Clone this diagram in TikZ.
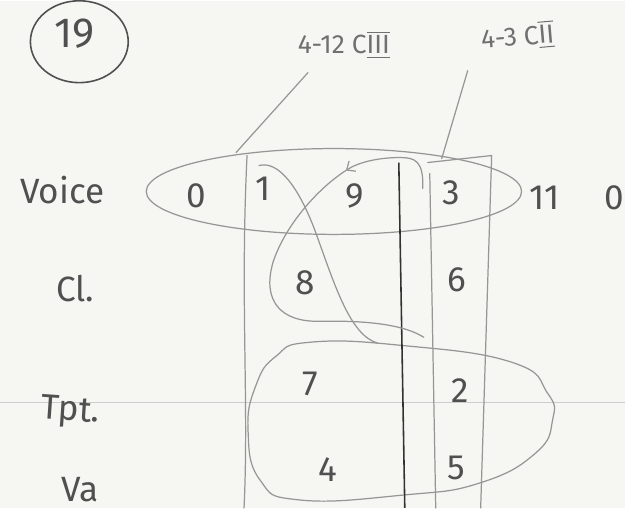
\documentclass[tikz,border=0pt]{standalone}
\usepackage{amsmath}
\usepackage{fontspec}
\setmainfont{Fira Sans}
\usepackage{tikz}
\usetikzlibrary{
  arrows.meta,
  positioning,
  shapes.geometric
}
\usepackage{xcolor}
\definecolor{paper}{RGB}{246,246,242}
\definecolor{pencil}{RGB}{80,80,80}
\definecolor{lead}{RGB}{150,150,150}
\definecolor{heavylead}{RGB}{50,50,50}
\definecolor{ruling}{RGB}{205,205,205}
\newcommand{\barnum}[1]{$\overline{\underline{\text{#1}}}$}

\begin{document}
\begin{tikzpicture}[x=0.02cm, y=-0.02cm,
  pitch/.style={font=\fontsize{20}{22}\selectfont, text=pencil, inner sep=1pt},
  inst/.style={font=\fontsize{20}{22}\selectfont, text=pencil},
  note/.style={font=\fontsize{15}{17}\selectfont, text=lead!75!black},
  pen/.style={draw=lead, line width=0.7pt, line cap=round, line join=round}]

  % Paper and its ruled line
  \fill[paper] (0,0) rectangle (626,508);
  \draw[ruling, line width=0.5pt] (0,402) -- (626,402);

  % Set number
  \node[ellipse, draw=pencil, line width=0.9pt, inner sep=0pt,
    minimum width=1.96cm, minimum height=1.64cm] (ring) at (79,41) {};
  \node[font=\fontsize{24}{26}\selectfont, text=pencil] (setno) at (74,33) {19};

  % Instruments
  \node[inst] (voice) at (62,190) {Voice};
  \node[inst] (cl) at (75,288) {Cl.};
  \node[inst, rotate=-4] (tpt) at (70,412) {Tpt.};
  \node[inst] (va) at (80,490) {Va};

  % Pitch classes
  \foreach \nm/\px/\py/\val in {
    v0/196/195/0, v1/263/188/1, v9/355/196/9, v3/452/192/3,
    v11/545/197/11, v0b/615/197/0,
    c8/305/282/8, c6/457/279/6,
    t7/310/384/7, t2/460/390/2,
    a4/328/470/4, a5/457/468/5%
  }{
    \node[pitch] (\nm) at (\px,\py) {\val};
  }

  % Groupings
  \node[ellipse, pen, inner sep=0pt, minimum width=7.52cm,
    minimum height=1.72cm] (voicegrp) at (334,191) {};
  \draw[pen] plot[smooth cycle, tension=0.8] coordinates {
    (310,342) (400,345) (512,362) (548,393) (553,420) (536,453)
    (480,483) (404,495) (300,500) (260,480) (248,430) (256,385) (276,356)};

  % Columns
  \coordinate (lbT) at (247,155);
  \coordinate (lbB) at (244,508);
  \draw[pen] (lbT) .. controls (240,300) and (249,400) .. (lbB);
  \coordinate (dT) at (399,162);
  \coordinate (dB) at (405,508);
  \draw[heavylead, line width=0.9pt] (dT) -- (dB);
  \coordinate (rbHL) at (428,162);
  \coordinate (rbTR) at (492,155);
  \coordinate (rbBR) at (481,508);
  \coordinate (rbTL) at (430,173);
  \coordinate (rbBL) at (436,508);
  \draw[pen] (rbHL) -- (rbTR) -- (rbBR);
  \draw[pen] (rbTL) -- (rbBL);

  % Chord labels
  \node[note] (lblA) at (344,44) {4-12 C\barnum{III}};
  \node[note, rotate=5] (lblB) at (518,36) {4-3 C\barnum{II}};
  \coordinate (legA) at (308,72);
  \coordinate (footA) at (236,152);
  \coordinate (legB) at (468,70);
  \coordinate (footB) at (442,158);
  \draw[pen] (legA) -- (footA);
  \draw[pen] (legB) -- (footB);

  % Paths through the row
  \coordinate (bTop) at (423,188);
  \coordinate (bTip) at (346,170);
  \coordinate (bEnd) at (424,337);
  \draw[pen, -{Straight Barb[length=4pt, width=7pt]}]
    (bTop) .. controls (424,160) and (415,157) .. (400,157)
    .. controls (378,157) and (358,162) .. (bTip);
  \draw[pen] (bTip) .. controls (318,188) and (285,225) .. (273,262)
    .. controls (262,300) and (280,322) .. (320,321)
    .. controls (370,320) and (405,325) .. (bEnd);
  \coordinate (aStart) at (259,165);
  \coordinate (aEnd) at (378,343);
  \draw[pen] (aStart) .. controls (278,160) and (298,185) .. (315,230)
    .. controls (335,285) and (350,335) .. (aEnd);
\end{tikzpicture}
\end{document}
